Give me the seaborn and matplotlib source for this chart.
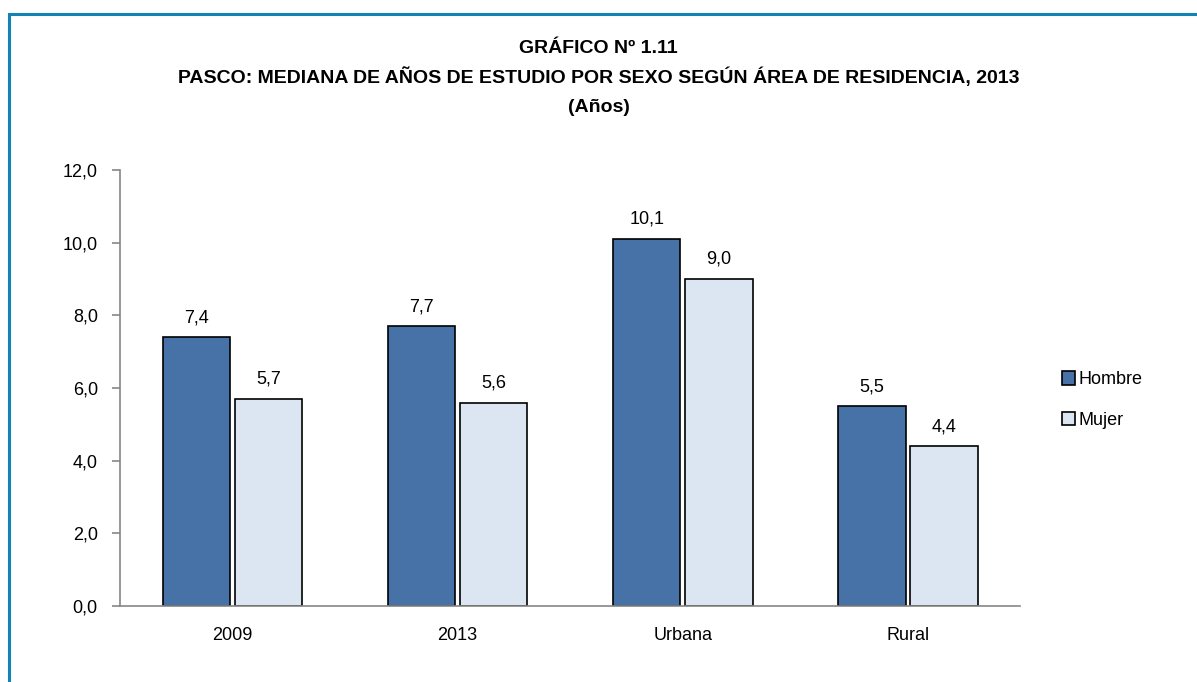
import seaborn as sns
import matplotlib.pyplot as plt
import pandas as pd
from matplotlib.patches import Rectangle, Patch
from matplotlib.ticker import FuncFormatter, FixedLocator

# Data
categorias = ["2009", "2013", "Urbana", "Rural"]
hombre = [7.4, 7.7, 10.1, 5.5]
mujer = [5.7, 5.6, 9.0, 4.4]
series = ["Hombre", "Mujer"]
colores = ["#4672A8", "#DCE6F2"]

df = pd.DataFrame({
    "categoria": categorias * 2,
    "sexo": ["Hombre"] * len(categorias) + ["Mujer"] * len(categorias),
    "valor": hombre + mujer,
})

sns.set_style("white")
plt.rcParams["font.family"] = ["Liberation Sans Narrow", "Liberation Sans", "DejaVu Sans"]
plt.rcParams["text.color"] = "black"
plt.rcParams["xtick.color"] = "black"
plt.rcParams["ytick.color"] = "black"

fig = plt.figure(figsize=(11.97, 6.82), dpi=100)
ax = fig.add_axes([0.1003, 0.1114, 0.752, 0.6393])

sns.barplot(data=df, x="categoria", y="valor", hue="sexo", order=categorias,
            hue_order=series, palette=colores, saturation=1, width=0.64, gap=0.06,
            edgecolor="black", linewidth=1.2, errorbar=None, legend=False, ax=ax)

# value labels
for cont in ax.containers:
    ax.bar_label(cont, labels=[f"{v:.1f}".replace(".", ",") for v in cont.datavalues],
                 padding=8, fontsize=13, color="black")

ax.set_ylim(0, 12)
ax.set_xlim(-0.5, len(categorias) - 0.5)
ax.set_yticks(range(0, 13, 2))
ax.yaxis.set_major_formatter(FuncFormatter(lambda v, p: f"{v:.1f}".replace(".", ",")))
ax.set_xlabel("")
ax.set_ylabel("")

# x ticks at category boundaries
ax.tick_params(axis="x", which="major", length=0, labelsize=13, pad=15)
ax.xaxis.set_minor_locator(FixedLocator([i - 0.5 for i in range(len(categorias) + 1)]))
ax.tick_params(axis="x", which="minor", length=6, width=1.2, color="#868686", direction="out")
ax.tick_params(axis="y", length=6, width=1.2, color="#868686", labelcolor="black",
               labelsize=13, pad=10, left=True)

for s in ["top", "right"]:
    ax.spines[s].set_visible(False)
for s in ["left", "bottom"]:
    ax.spines[s].set_color("#868686")
    ax.spines[s].set_linewidth(1.2)

# legend
handles = [Patch(facecolor=c, edgecolor="black", linewidth=1.2, label=l)
           for c, l in zip(colores, series)]
fig.legend(handles=handles, loc="center left", bbox_to_anchor=(0.8735, 0.4135),
           frameon=False, fontsize=13, handlelength=0.75, handleheight=0.75,
           handletextpad=0.15, labelspacing=1.3)

# title
fig.text(0.5, 0.9296, "GRÁFICO Nº 1.11", ha="center", va="center",
         fontsize=14, fontweight="bold")
fig.text(0.5, 0.8871, "PASCO: MEDIANA DE AÑOS DE ESTUDIO POR SEXO SEGÚN ÁREA DE RESIDENCIA, 2013",
         ha="center", va="center", fontsize=14, fontweight="bold")
fig.text(0.5, 0.8431, "(Años)", ha="center", va="center", fontsize=14, fontweight="bold")

# outer frame
fig.patches.append(Rectangle((9 / 1197, -0.05), 1.1, 1 - 14 / 682 + 0.05,
                             transform=fig.transFigure, fill=False,
                             edgecolor="#1184B4", linewidth=2.2))

fig.savefig("out.png", dpi=100)
